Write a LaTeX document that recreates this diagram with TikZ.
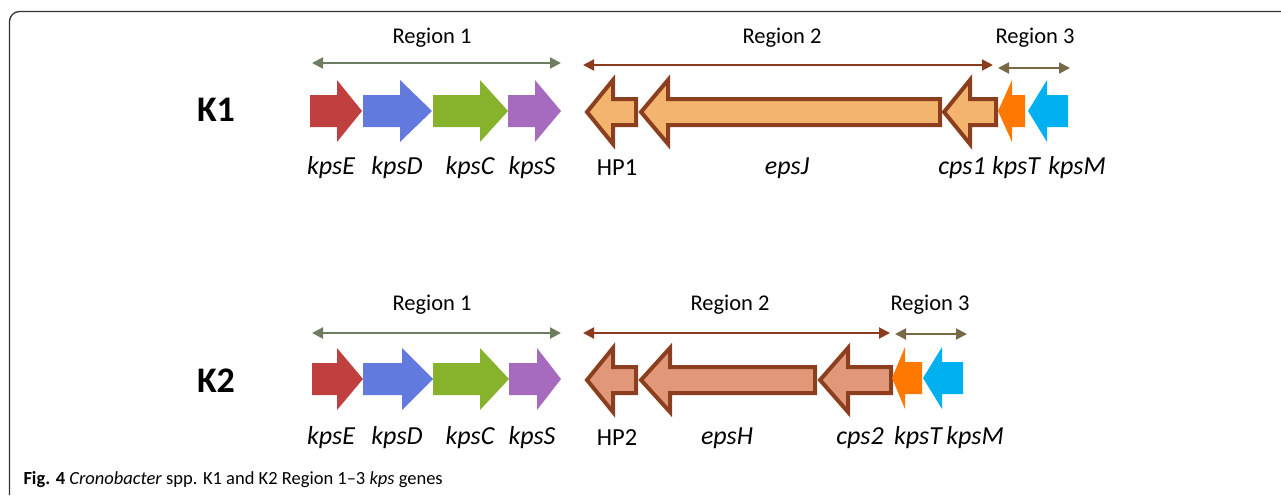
\documentclass[tikz,border=0pt]{standalone}
\usepackage{fontspec}
\setmainfont{Carlito}
\usetikzlibrary{positioning}
\usetikzlibrary{arrows.meta}
\definecolor{kred}{RGB}{192,64,64}
\definecolor{kblue}{RGB}{98,121,222}
\definecolor{kgreen}{RGB}{134,178,44}
\definecolor{kpurple}{RGB}{166,107,190}
\definecolor{korange}{RGB}{255,120,0}
\definecolor{kcyan}{RGB}{0,176,240}
\definecolor{epsline}{RGB}{140,63,30}
\definecolor{epsfillA}{RGB}{242,180,110}
\definecolor{epsfillB}{RGB}{224,152,120}
\definecolor{regA}{RGB}{110,125,95}
\definecolor{regB}{RGB}{140,60,30}
\definecolor{regC}{RGB}{120,105,70}
\tikzset{
	every node/.style={inner sep=0pt,outer sep=1.5pt},
	cluster/.style={font=\bfseries\fontsize{36}{40}\selectfont},
	regtext/.style={font=\fontsize{22.5}{26}\selectfont},
	genetext/.style={font=\itshape\fontsize{26}{30}\selectfont},
	plaingene/.style={font=\fontsize{24.5}{28}\selectfont},
	regarrow/.style={line width=2pt,{Triangle[length=11pt,width=11pt]}-{Triangle[length=11pt,width=11pt]}},
	epsgene/.style={draw=epsline,line width=4pt,line join=miter},
}
% #1 style, #2 body end, #3 head base, #4 tip, #5 y centre
\newcommand{\gene}[5]{\fill[#1] (#2,#5-16) -- (#3,#5-16) -- (#3,#5-31) -- (#4,#5) -- (#3,#5+31) -- (#3,#5+16) -- (#2,#5+16) -- cycle;}
\newcommand{\egene}[5]{\filldraw[epsgene,#1] (#2,#5-13) -- (#3,#5-13) -- (#3,#5-32) -- (#4,#5) -- (#3,#5+32) -- (#3,#5+13) -- (#2,#5+13) -- cycle;}
\begin{document}
\begin{tikzpicture}[x=1pt,y=-1pt]
	\useasboundingbox (0,0) rectangle (1281,495);
	
	% frame.....................
	\draw [line width=1.3pt,black!80,rounded corners=10pt] (9.5,495) |- (1281,11.5);
	
	%%%%%%%%%%%%%%%%%%%%%% K1 row %%%%%%%%%%%%%%%%%%%%%%
	\node [cluster] (k1) at (216,110) {K1};
	
	% regions...................
	\coordinate (r1a) at (312,63);
	\coordinate (r1b) at (561,63);
	\coordinate (r2a) at (583,65);
	\coordinate (r2b) at (993,65);
	\coordinate (r3a) at (998,68);
	\coordinate (r3b) at (1070,68);
	\draw [regarrow,regA] (r1a) -- (r1b);
	\draw [regarrow,regB] (r2a) -- (r2b);
	\draw [regarrow,regC] (r3a) -- (r3b);
	\node [regtext] (reg1) at (432,38) {Region 1};
	\node [regtext] (reg2) at (782,38) {Region 2};
	\node [regtext] (reg3) at (1035,38) {Region 3};
	
	% genes.....................
	\gene{kred}{310}{337}{362}{111}
	\gene{kblue}{363}{400}{432}{111}
	\gene{kgreen}{433}{480}{508}{111}
	\gene{kpurple}{508}{535}{561}{111}
	\egene{fill=epsfillA}{636}{613}{587}{112}
	\egene{fill=epsfillA}{940}{668}{641}{112}
	\egene{fill=epsfillA}{996}{970}{944}{112}
	\gene{korange}{1025}{1012}{998}{111}
	\gene{kcyan}{1068}{1047}{1028}{111}
	
	% labels....................
	\node [genetext] (e1) at (331,168) {kpsE};
	\node [genetext] (d1) at (397,168) {kpsD};
	\node [genetext] (c1) at (470,168) {kpsC};
	\node [genetext] (s1) at (532,168) {kpsS};
	\node [plaingene] (hp1) at (617,168) {HP1};
	\node [genetext] (epsj) at (787,168) {epsJ};
	\node [genetext] (cps1) at (962,168) {cps1};
	\node [genetext] (t1) at (1016,168) {kpsT};
	\node [genetext] (m1) at (1077,168) {kpsM};
	
	%%%%%%%%%%%%%%%%%%%%%% K2 row %%%%%%%%%%%%%%%%%%%%%%
	\node [cluster] (k2) at (216,381) {K2};
	
	% regions...................
	\coordinate (s1a) at (312,333);
	\coordinate (s1b) at (561,333);
	\coordinate (s2a) at (583,333);
	\coordinate (s2b) at (890,333);
	\coordinate (s3a) at (895,334);
	\coordinate (s3b) at (967,334);
	\draw [regarrow,regA] (s1a) -- (s1b);
	\draw [regarrow,regB] (s2a) -- (s2b);
	\draw [regarrow,regC] (s3a) -- (s3b);
	\node [regtext] (reg1b) at (432,305) {Region 1};
	\node [regtext] (reg2b) at (730,305) {Region 2};
	\node [regtext] (reg3b) at (930,305) {Region 3};
	
	% genes.....................
	\gene{kred}{312}{337}{363}{379}
	\gene{kblue}{363}{402}{433}{379}
	\gene{kgreen}{433}{480}{509}{379}
	\gene{kpurple}{509}{537}{561}{379}
	\egene{fill=epsfillB}{636}{613}{587}{380}
	\egene{fill=epsfillB}{815}{670}{641}{380}
	\egene{fill=epsfillB}{891}{848}{820}{380}
	\gene{korange}{922}{905}{892}{378}
	\gene{kcyan}{963}{942}{923}{378}
	
	% labels....................
	\node [genetext] (e2) at (331,438) {kpsE};
	\node [genetext] (d2) at (397,438) {kpsD};
	\node [genetext] (c2) at (470,438) {kpsC};
	\node [genetext] (s2) at (532,438) {kpsS};
	\node [plaingene] (hp2) at (617,438) {HP2};
	\node [genetext] (epsh) at (727,438) {epsH};
	\node [genetext] (cps2) at (860,438) {cps2};
	\node [genetext] (t2) at (918,438) {kpsT};
	\node [genetext] (m2) at (975,438) {kpsM};
	
	% caption...................
	\node [anchor=west,font=\fontsize{18.5}{22}\selectfont] (cap) at (22,480) {\textbf{Fig. 4} \textit{Cronobacter} spp. K1 and K2 Region 1--3 \textit{kps} genes};
\end{tikzpicture}
\end{document}
